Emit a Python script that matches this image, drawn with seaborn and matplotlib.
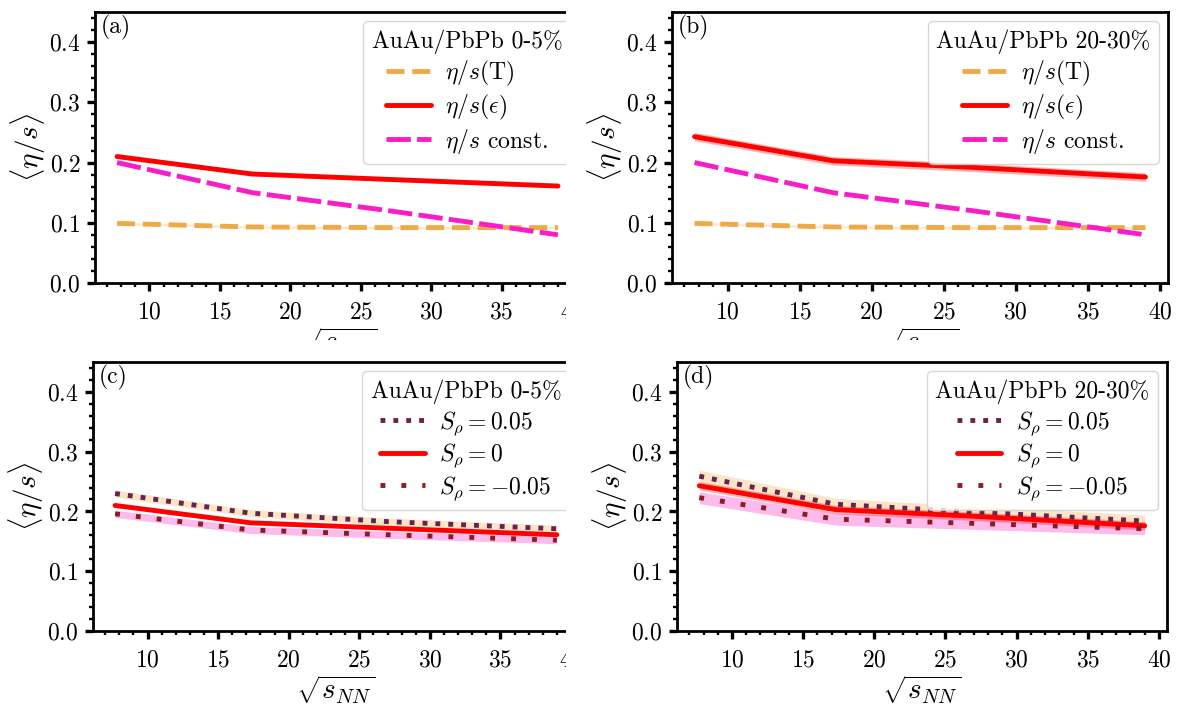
import matplotlib
matplotlib.use("Agg")
import matplotlib.pyplot as plt
from matplotlib.patches import Rectangle
from matplotlib.ticker import MultipleLocator
import seaborn as sns

# collision energies (sqrt s_NN)
energies = [7.7, 17.3, 27.0, 39.0]

# top row: parametrisations of eta/s
eta_T = [0.099, 0.093, 0.092, 0.092]
eta_const = [0.200, 0.150, 0.120, 0.080]
eta_eps_central = [0.210, 0.181, 0.172, 0.161]
eta_eps_mid = [0.243, 0.203, 0.192, 0.176]

# bottom row: S_rho variations
sp_pos_central = [0.230, 0.197, 0.183, 0.171]
sp_neg_central = [0.196, 0.169, 0.161, 0.152]
sp_pos_mid = [0.259, 0.212, 0.199, 0.184]
sp_neg_mid = [0.223, 0.187, 0.180, 0.171]

# half widths of the uncertainty bands
band_T = 0.002
band_eps_central = 0.003
band_eps_mid = 0.007
band_sp_central = 0.006
band_sp_mid = 0.010

titles = ["AuAu/PbPb 0-5%", "AuAu/PbPb 20-30%"]
panel_tags = ["(a)", "(b)", "(c)", "(d)"]

sns.set_style("ticks")
plt.rcParams.update({
    "font.family": "serif",
    "font.serif": ["cmr10", "DejaVu Serif"],
    "mathtext.fontset": "cm",
    "axes.formatter.use_mathtext": True,
    "font.size": 17,
    "axes.edgecolor": "black",
    "axes.linewidth": 2.0,
    "xtick.color": "black",
    "ytick.color": "black",
    "text.color": "black",
    "axes.labelcolor": "black",
})

FS = 17
FS_LABEL = 21

c_orange = "#efaa47"
c_red = "#ff0000"
c_magenta = "#f81dc6"
c_purple = "#6a2150"
c_darkred = "#8c1c22"

lw = 3.5

fig = plt.figure(figsize=(11.77, 7.04), dpi=100)
W, H = 1177.0, 704.0


def px_axes(left, top, right, bottom, z):
    return fig.add_axes([left / W, 1 - bottom / H, (right - left) / W, (bottom - top) / H], zorder=z)


ax_a = px_axes(95, 12, 580, 283, 0)
ax_b = px_axes(672, 12, 1168, 283, 1)
ax_c = px_axes(93, 362, 579, 631, 2)
ax_d = px_axes(677, 362, 1167, 631, 3)
axes = [ax_a, ax_b, ax_c, ax_d]

legend_kw = dict(loc="upper right", handlelength=1.9, title_fontsize=FS, fontsize=FS,
                 labelspacing=0.2, borderpad=0.35, handletextpad=0.6, borderaxespad=0.4)

# top row
for ax, eps, band_eps, title in [(ax_a, eta_eps_central, band_eps_central, titles[0]),
                                 (ax_b, eta_eps_mid, band_eps_mid, titles[1])]:
    ax.fill_between(energies, [v - band_T for v in eta_T], [v + band_T for v in eta_T],
                    color=c_orange, alpha=0.25, lw=0)
    ax.fill_between(energies, [v - band_eps for v in eps], [v + band_eps for v in eps],
                    color=c_red, alpha=0.3, lw=0)
    sns.lineplot(x=energies, y=eta_T, ax=ax, color=c_orange, lw=lw,
                 linestyle=(0, (3.7, 1.6)), label=r"$\eta/s(\mathrm{T})$")
    sns.lineplot(x=energies, y=eps, ax=ax, color=c_red, lw=lw,
                 label=r"$\eta/s(\epsilon)$")
    sns.lineplot(x=energies, y=eta_const, ax=ax, color=c_magenta, lw=lw,
                 linestyle=(0, (5.0, 1.3)), label=r"$\eta/s$ const.")
    ax.legend(title=title, **legend_kw)

# bottom row
for ax, pos, eps, neg, band_eps, title in [
        (ax_c, sp_pos_central, eta_eps_central, sp_neg_central, band_eps_central, titles[0]),
        (ax_d, sp_pos_mid, eta_eps_mid, sp_neg_mid, band_eps_mid, titles[1])]:
    band_sp = band_sp_central if ax is ax_c else band_sp_mid
    ax.fill_between(energies, [v - band_sp for v in pos], [v + band_sp for v in pos],
                    color=c_orange, alpha=0.3, lw=0)
    ax.fill_between(energies, [v - band_sp for v in neg], [v + band_sp for v in neg],
                    color=c_magenta, alpha=0.3, lw=0)
    ax.fill_between(energies, [v - band_eps for v in eps], [v + band_eps for v in eps],
                    color=c_red, alpha=0.3, lw=0)
    sns.lineplot(x=energies, y=pos, ax=ax, color=c_purple, lw=lw,
                 linestyle=(0, (1, 1.65)), label=r"$S_\rho = 0.05$")
    sns.lineplot(x=energies, y=eps, ax=ax, color=c_red, lw=lw,
                 label=r"$S_\rho = 0$")
    sns.lineplot(x=energies, y=neg, ax=ax, color=c_darkred, lw=lw,
                 linestyle=(0, (1, 3.3)), label=r"$S_\rho = -0.05$")
    ax.legend(title=title, **legend_kw)

for ax, tag in zip(axes, panel_tags):
    ax.set_ylim(0, 0.45)
    ax.set_yticks([0.0, 0.1, 0.2, 0.3, 0.4])
    ax.yaxis.set_minor_locator(MultipleLocator(0.02))
    ax.xaxis.set_major_locator(MultipleLocator(5))
    ax.xaxis.set_minor_locator(MultipleLocator(1))
    ax.tick_params(which="major", direction="out", length=5.5, width=2.4, labelsize=FS)
    ax.tick_params(which="minor", direction="out", length=3.2, width=1.7)
    ax.tick_params(axis="x", which="major", pad=8)
    ax.tick_params(axis="y", which="major", pad=5)
    ax.set_xlabel(r"$\sqrt{s_{NN}}$", fontsize=FS_LABEL, labelpad=1)
    ax.set_ylabel(r"$\langle\eta/s\rangle$", fontsize=FS_LABEL, labelpad=1)
    ax.text(0.012, 0.99, tag, transform=ax.transAxes, ha="left", va="top", fontsize=FS)
    for s in ax.spines.values():
        s.set_visible(True)
        s.set_linewidth(2.0)

# the reference is stitched from four cropped images: hide what was cut off
fig.add_artist(Rectangle((566 / W, 1 - 340 / H), 26 / W, 340 / H, transform=fig.transFigure,
                         facecolor="white", edgecolor="none", zorder=0.5))
fig.add_artist(Rectangle((0, 0), 1, 1 - 340 / H, transform=fig.transFigure,
                         facecolor="white", edgecolor="none", zorder=1.5))
fig.add_artist(Rectangle((566 / W, 0), 30 / W, 1 - 340 / H, transform=fig.transFigure,
                         facecolor="white", edgecolor="none", zorder=2.5))

fig.savefig("out.png", dpi=100)
